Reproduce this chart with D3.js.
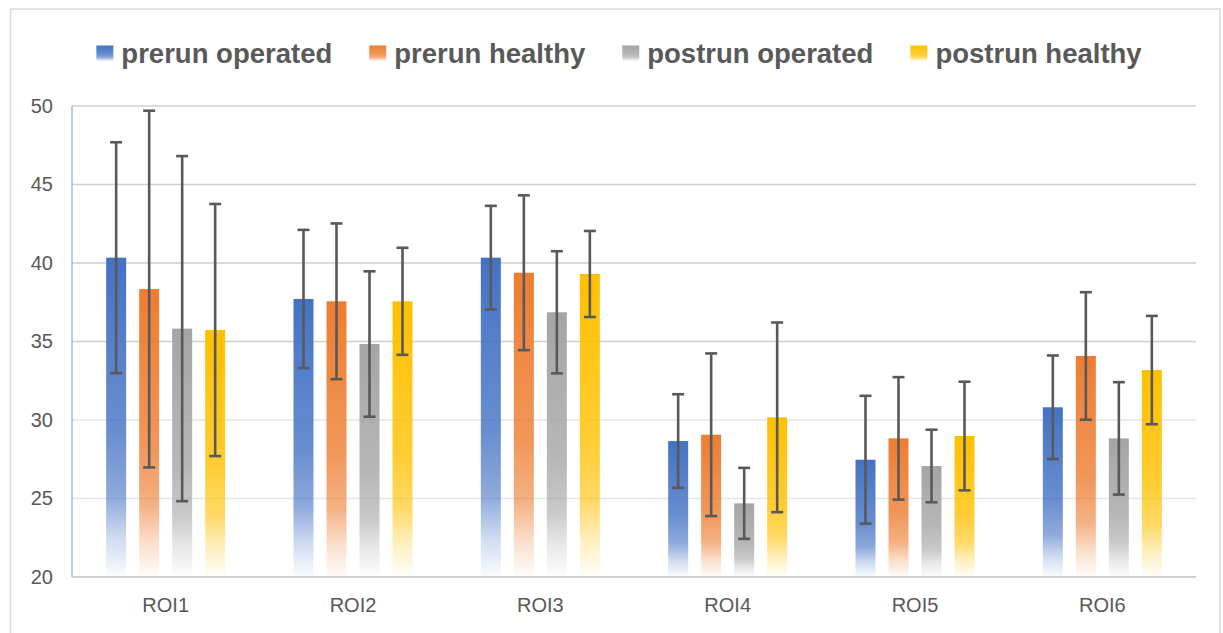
<!DOCTYPE html>
<html>
<head>
<meta charset="utf-8">
<script src="https://cdn.jsdelivr.net/npm/d3@7"></script>
<style>
  html, body { margin: 0; padding: 0; background: #fff; }
  svg { display: block; }
</style>
</head>
<body>
<svg id="chart" width="1223" height="633"></svg>
<script>
// ---- data ----
const categories = ["ROI1", "ROI2", "ROI3", "ROI4", "ROI5", "ROI6"];
const seriesNames = ["prerun operated", "prerun healthy", "postrun operated", "postrun healthy"];
const prerunOperated  = [40.34, 37.71, 40.34, 28.66, 27.47, 30.81];
const prerunHealthy   = [38.34, 37.56, 39.38, 29.06, 28.83, 34.08];
const postrunOperated = [35.82, 34.84, 36.86, 24.69, 27.07, 28.83];
const postrunHealthy  = [35.73, 37.56, 39.30, 30.17, 28.98, 33.18];
const prerunOperatedErr  = [7.35, 4.40, 3.30, 2.98, 4.07, 3.30];
const prerunHealthyErr   = [11.36, 4.96, 4.93, 5.18, 3.90, 4.06];
const postrunOperatedErr = [10.99, 4.63, 3.89, 2.26, 2.31, 3.58];
const postrunHealthyErr  = [8.03, 3.41, 2.74, 6.04, 3.46, 3.45];
const yTicks = [20, 25, 30, 35, 40, 45, 50];
const colors = ["#4472C4", "#ED7D31", "#A5A5A5", "#FFC000"];

const seriesValues = [prerunOperated, prerunHealthy, postrunOperated, postrunHealthy];
const seriesErrors = [prerunOperatedErr, prerunHealthyErr, postrunOperatedErr, postrunHealthyErr];

// ---- layout ----
const svg = d3.select("#chart");
const mLeft = 72, mRight = 1196, mTop = 106, mBottom = 577;

const y = d3.scaleLinear().domain([20, 50]).range([mBottom, mTop]);
const x0 = d3.scaleBand().domain(categories).range([mLeft, mRight]).padding(0);
const x1 = d3.scaleBand().domain(seriesNames).range([0, x0.bandwidth()])
  .paddingInner(0.394).paddingOuter(1.035);

// frame
svg.append("rect").attr("x", 10.5).attr("y", 9).attr("width", 1209.5).attr("height", 640)
  .attr("fill", "none").attr("stroke", "#d9d9d9").attr("stroke-width", 1.5);

// gradients
const defs = svg.append("defs");
colors.forEach((c, i) => {
  const g = defs.append("linearGradient").attr("id", "grad" + i)
    .attr("x1", 0).attr("y1", 0).attr("x2", 0).attr("y2", 1);
  [[0, 1], [0.55, 0.8], [0.75, 0.6], [0.88, 0.25], [1, 0.02]].forEach(([o, a]) => {
    g.append("stop").attr("offset", o).attr("stop-color", c).attr("stop-opacity", a);
  });
});

// gridlines
svg.append("g").selectAll("line").data(yTicks.filter(t => t > 20)).join("line")
  .attr("x1", mLeft).attr("x2", mRight)
  .attr("y1", d => y(d)).attr("y2", d => y(d))
  .attr("stroke", d => d >= 35 ? "#cfcfcf" : "#e6e6e6")
  .attr("stroke-width", 1.6);

// y axis labels
const yAxis = d3.axisLeft(y).tickValues(yTicks).tickSize(0).tickPadding(19);
const gy = svg.append("g").attr("transform", `translate(${mLeft},0)`).call(yAxis);
gy.select(".domain").remove();
gy.selectAll("text").attr("fill", "#595959")
  .style("font-family", "'Liberation Sans', Arial, sans-serif").style("font-size", "20px");

// left axis line (blue)
svg.append("line").attr("x1", mLeft).attr("x2", mLeft).attr("y1", mTop).attr("y2", mBottom)
  .attr("stroke", "#8eaadb").attr("stroke-width", 1.2);

// bars
const groups = svg.append("g").selectAll("g").data(categories).join("g")
  .attr("transform", d => `translate(${x0(d)},0)`);

seriesNames.forEach((s, si) => {
  groups.append("rect")
    .attr("x", x1(s))
    .attr("width", x1.bandwidth())
    .attr("y", (d, ci) => y(seriesValues[si][ci]))
    .attr("height", (d, ci) => y(20) - y(seriesValues[si][ci]))
    .attr("fill", `url(#grad${si})`);
});

// baseline
svg.append("line").attr("x1", mLeft).attr("x2", mRight).attr("y1", mBottom).attr("y2", mBottom)
  .attr("stroke", "#d0d0d0").attr("stroke-width", 1.8);

// error bars
seriesNames.forEach((s, si) => {
  const eg = groups.append("g").attr("stroke", "#595959").attr("stroke-width", 2.6);
  const cx = x1(s) + x1.bandwidth() / 2;
  eg.append("line").attr("x1", cx).attr("x2", cx)
    .attr("y1", (d, ci) => y(seriesValues[si][ci] + seriesErrors[si][ci]))
    .attr("y2", (d, ci) => y(seriesValues[si][ci] - seriesErrors[si][ci]));
  eg.append("line").attr("x1", cx - 6).attr("x2", cx + 6)
    .attr("y1", (d, ci) => y(seriesValues[si][ci] + seriesErrors[si][ci]))
    .attr("y2", (d, ci) => y(seriesValues[si][ci] + seriesErrors[si][ci]));
  eg.append("line").attr("x1", cx - 6).attr("x2", cx + 6)
    .attr("y1", (d, ci) => y(seriesValues[si][ci] - seriesErrors[si][ci]))
    .attr("y2", (d, ci) => y(seriesValues[si][ci] - seriesErrors[si][ci]));
});

// x axis labels
const xAxis = d3.axisBottom(x0).tickSize(0).tickPadding(21);
const gx = svg.append("g").attr("transform", `translate(0,${mBottom})`).call(xAxis);
gx.select(".domain").remove();
gx.selectAll("text").attr("fill", "#595959")
  .style("font-family", "'Liberation Sans', Arial, sans-serif").style("font-size", "20px");

// legend
const legend = svg.append("g");
const items = legend.selectAll("g").data(seriesNames).join("g");
items.append("rect").attr("width", 17).attr("height", 16).attr("y", -8)
  .attr("fill", (d, i) => `url(#grad${i})`);
items.append("text").attr("x", 25).attr("dy", "0.35em")
  .attr("fill", "#595959").style("font-weight", "bold")
  .style("font-family", "'Liberation Sans', Arial, sans-serif").style("font-size", "27.5px")
  .text(d => d);
const gap = 37;
const widths = [];
items.each(function () {
  const w = 25 + d3.select(this).select("text").node().getComputedTextLength();
  widths.push(w);
});
const total = d3.sum(widths) + gap * (widths.length - 1);
let start = 619 - total / 2;
items.attr("transform", (d, i) => {
  const t = `translate(${start},53.5)`;
  start += widths[i] + gap;
  return t;
});
</script>
</body>
</html>
